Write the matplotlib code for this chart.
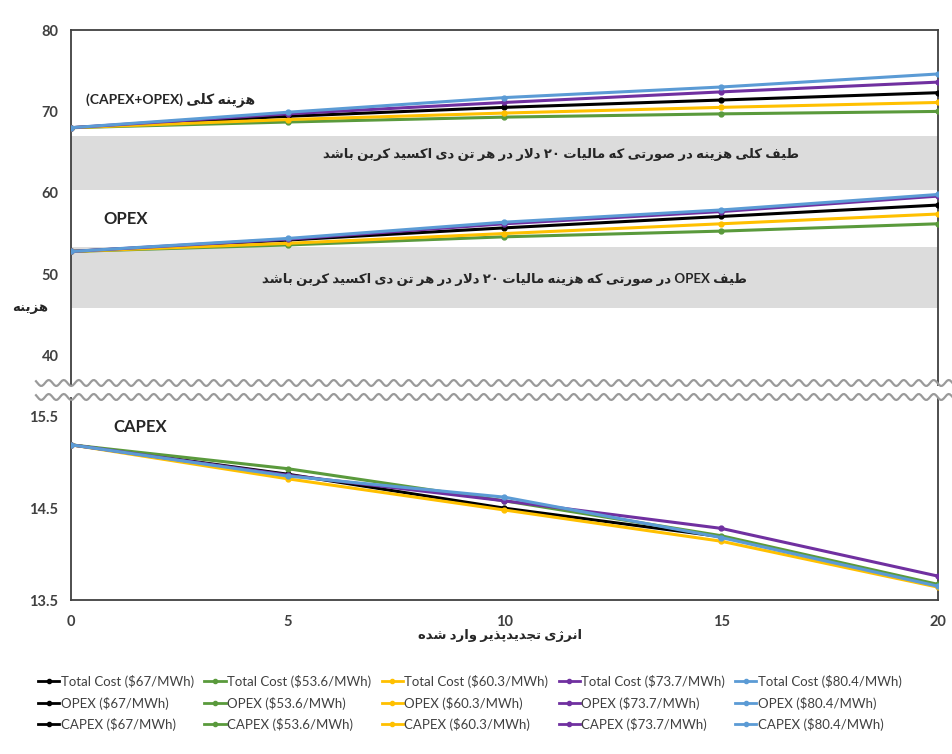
import numpy as np
import matplotlib
matplotlib.use("Agg")
import matplotlib.pyplot as plt
from matplotlib.lines import Line2D

plt.rcParams['font.family'] = ['Lato', 'DejaVu Sans']

# --- data ---
x = [0, 5, 10, 15, 20]
prices = ["$67/MWh", "$53.6/MWh", "$60.3/MWh", "$73.7/MWh", "$80.4/MWh"]
colors = ["#000000", "#5a9a3c", "#ffc000", "#7030a0", "#5b9bd5"]

total_cost = [
    [68.0, 69.4, 70.5, 71.4, 72.3],
    [68.0, 68.7, 69.3, 69.7, 70.0],
    [68.0, 69.0, 69.8, 70.5, 71.1],
    [68.0, 69.7, 71.1, 72.4, 73.6],
    [68.0, 69.9, 71.7, 73.0, 74.6],
]
opex = [
    [52.8, 54.2, 55.7, 57.1, 58.5],
    [52.8, 53.6, 54.6, 55.3, 56.2],
    [52.8, 53.8, 55.0, 56.2, 57.4],
    [52.8, 54.3, 56.2, 57.7, 59.6],
    [52.8, 54.4, 56.4, 57.9, 59.8],
]
capex = [
    [15.19, 14.87, 14.50, 14.19, 13.66],
    [15.19, 14.93, 14.58, 14.20, 13.67],
    [15.19, 14.82, 14.48, 14.14, 13.64],
    [15.19, 14.86, 14.58, 14.28, 13.76],
    [15.19, 14.85, 14.62, 14.18, 13.65],
]
band_total = (60.3, 67.0)
band_opex = (45.8, 53.4)

# --- minimal Persian shaping (presentation forms) ---
FORMS = {
    'ا': (0xFE8D, 0xFE8E, None, None), 'د': (0xFEA9, 0xFEAA, None, None),
    'ذ': (0xFEAB, 0xFEAC, None, None), 'ر': (0xFEAD, 0xFEAE, None, None),
    'ز': (0xFEAF, 0xFEB0, None, None), 'ژ': (0xFB8A, 0xFB8B, None, None),
    'و': (0xFEED, 0xFEEE, None, None),
    'ب': (0xFE8F, 0xFE90, 0xFE91, 0xFE92), 'پ': (0xFB56, 0xFB57, 0xFB58, 0xFB59),
    'ت': (0xFE95, 0xFE96, 0xFE97, 0xFE98), 'ج': (0xFE9D, 0xFE9E, 0xFE9F, 0xFEA0),
    'س': (0xFEB1, 0xFEB2, 0xFEB3, 0xFEB4), 'ش': (0xFEB5, 0xFEB6, 0xFEB7, 0xFEB8),
    'ص': (0xFEB9, 0xFEBA, 0xFEBB, 0xFEBC), 'ط': (0xFEC1, 0xFEC2, 0xFEC3, 0xFEC4),
    'ف': (0xFED1, 0xFED2, 0xFED3, 0xFED4), 'ک': (0xFB8E, 0xFB8F, 0xFB90, 0xFB91),
    'ل': (0xFEDD, 0xFEDE, 0xFEDF, 0xFEE0), 'م': (0xFEE1, 0xFEE2, 0xFEE3, 0xFEE4),
    'ن': (0xFEE5, 0xFEE6, 0xFEE7, 0xFEE8), 'ه': (0xFEE9, 0xFEEA, 0xFEEB, 0xFEEC),
    'ی': (0xFBFC, 0xFBFD, 0xFBFE, 0xFBFF),
}


def dual(c):
    return c in FORMS and FORMS[c][2] is not None


def shape_word(w):
    out = []
    i = 0
    n = len(w)
    while i < n:
        c = w[i]
        if c not in FORMS:
            out.append(c)
            i += 1
            continue
        jp = i > 0 and dual(w[i - 1])
        if c == 'ل' and i + 1 < n and w[i + 1] == 'ا':
            out.append(chr(0xFEFC if jp else 0xFEFB))
            i += 2
            continue
        jn = dual(c) and i + 1 < n and w[i + 1] in FORMS
        iso, fin, ini, med = FORMS[c]
        if jp and jn:
            out.append(chr(med))
        elif jn:
            out.append(chr(ini))
        elif jp:
            out.append(chr(fin))
        else:
            out.append(chr(iso))
        i += 1
    return "".join(out)


def fa(s):
    words = s.split(" ")
    vis = []
    for w in reversed(words):
        if any(ch in FORMS for ch in w):
            vis.append(shape_word(w)[::-1])
        else:
            vis.append(w)
    return " ".join(vis)


# --- figure ---
fig = plt.figure(figsize=(9.53, 7.54), dpi=100)
L, W = 71 / 953, (938 - 71) / 953
ax1 = fig.add_axes([L, 1 - 385 / 754, W, (385 - 30) / 754])
ax2 = fig.add_axes([L, 1 - 600 / 754, W, (600 - 398) / 754])

lw = 2.2
ms = 3.5
for i in range(5):
    ax1.plot(x, total_cost[i], color=colors[i], lw=lw, marker='o', ms=ms, zorder=3)
    ax1.plot(x, opex[i], color=colors[i], lw=lw, marker='o', ms=ms, zorder=3)
    ax2.plot(x, capex[i], color=colors[i], lw=lw, marker='o', ms=ms, zorder=3)

ax1.axhspan(band_total[0], band_total[1], color='#dcdcdc', lw=0, zorder=1)
ax1.axhspan(band_opex[0], band_opex[1], color='#dcdcdc', lw=0, zorder=1)

ax1.set_xlim(0, 20)
ax2.set_xlim(0, 20)
ax1.set_ylim(36.4, 80)
ax2.set_ylim(13.5, 15.7)
ax1.set_yticks([40, 50, 60, 70, 80])
ax2.set_yticks([13.5, 14.5, 15.5])
ax2.set_yticklabels(["13.5", "14.5", "15.5"])
ax1.set_xticks([])
ax2.set_xticks([0, 5, 10, 15, 20])

for ax in (ax1, ax2):
    ax.tick_params(length=0, labelsize=10.5, colors='#404040', pad=9)
    for lab in ax.get_yticklabels() + ax.get_xticklabels():
        lab.set_fontweight('bold')
    for sp in ax.spines.values():
        sp.set_color('#404040')
        sp.set_linewidth(1.3)
ax2.tick_params(axis='x', pad=11)
ax1.spines['bottom'].set_visible(False)
ax2.spines['top'].set_visible(False)

# annotations
ax1.text(2.3, 71.4, fa("هزینه کلی (CAPEX+OPEX)"), ha='center', va='center',
         fontsize=10, fontweight='bold', color='#262626')
ax1.text(11.3, 64.7, fa("طیف کلی هزینه در صورتی که مالیات ۲۰ دلار در هر تن دی اکسید کربن باشد"),
         ha='center', va='center', fontsize=9.5, fontweight='bold', color='#262626', zorder=4)
ax1.text(0.75, 56.8, "OPEX", ha='left', va='center', fontsize=12, fontweight='bold', color='#262626')
ax1.text(10.0, 49.3, fa("طیف OPEX در صورتی که هزینه مالیات ۲۰ دلار در هر تن دی اکسید کربن باشد"),
         ha='center', va='center', fontsize=9.5, fontweight='bold', color='#262626', zorder=4)
ax2.text(0.97, 15.38, "CAPEX", ha='left', va='center', fontsize=12, fontweight='bold', color='#262626')

fig.text(30 / 953, 1 - 308 / 754, fa("هزینه"), ha='center', va='center',
         fontsize=9.5, fontweight='bold', color='#262626')
fig.text(500 / 953, 1 - 636 / 754, fa("انرژی تجدیدپذیر وارد شده"), ha='center', va='center',
         fontsize=9.5, fontweight='bold', color='#262626')

# wavy break lines
xs = np.linspace(36 / 953, 1, 600)
for yp in (383, 397):
    ys = 1 - yp / 754 + (3 / 754) * np.sin(xs * 953 / 15 * 2 * np.pi)
    fig.add_artist(Line2D(xs, ys, color='#9a9a9a', lw=1.6, transform=fig.transFigure))

# legend, rows = series type, columns = price
handles = []
labels = []
for i in range(5):
    for name in ("Total Cost", "OPEX", "CAPEX"):
        handles.append(Line2D([], [], color=colors[i], lw=2, marker='o', ms=3))
        labels.append("%s (%s)" % (name, prices[i]))
fig.legend(handles, labels, ncol=5, loc='center', bbox_to_anchor=(470 / 953, 1 - 703 / 754),
           frameon=False, fontsize=9.5, handlelength=1.6, handletextpad=0.1,
           columnspacing=0.8, labelspacing=0.65, labelcolor='#404040')

fig.savefig("out.png", dpi=100)
